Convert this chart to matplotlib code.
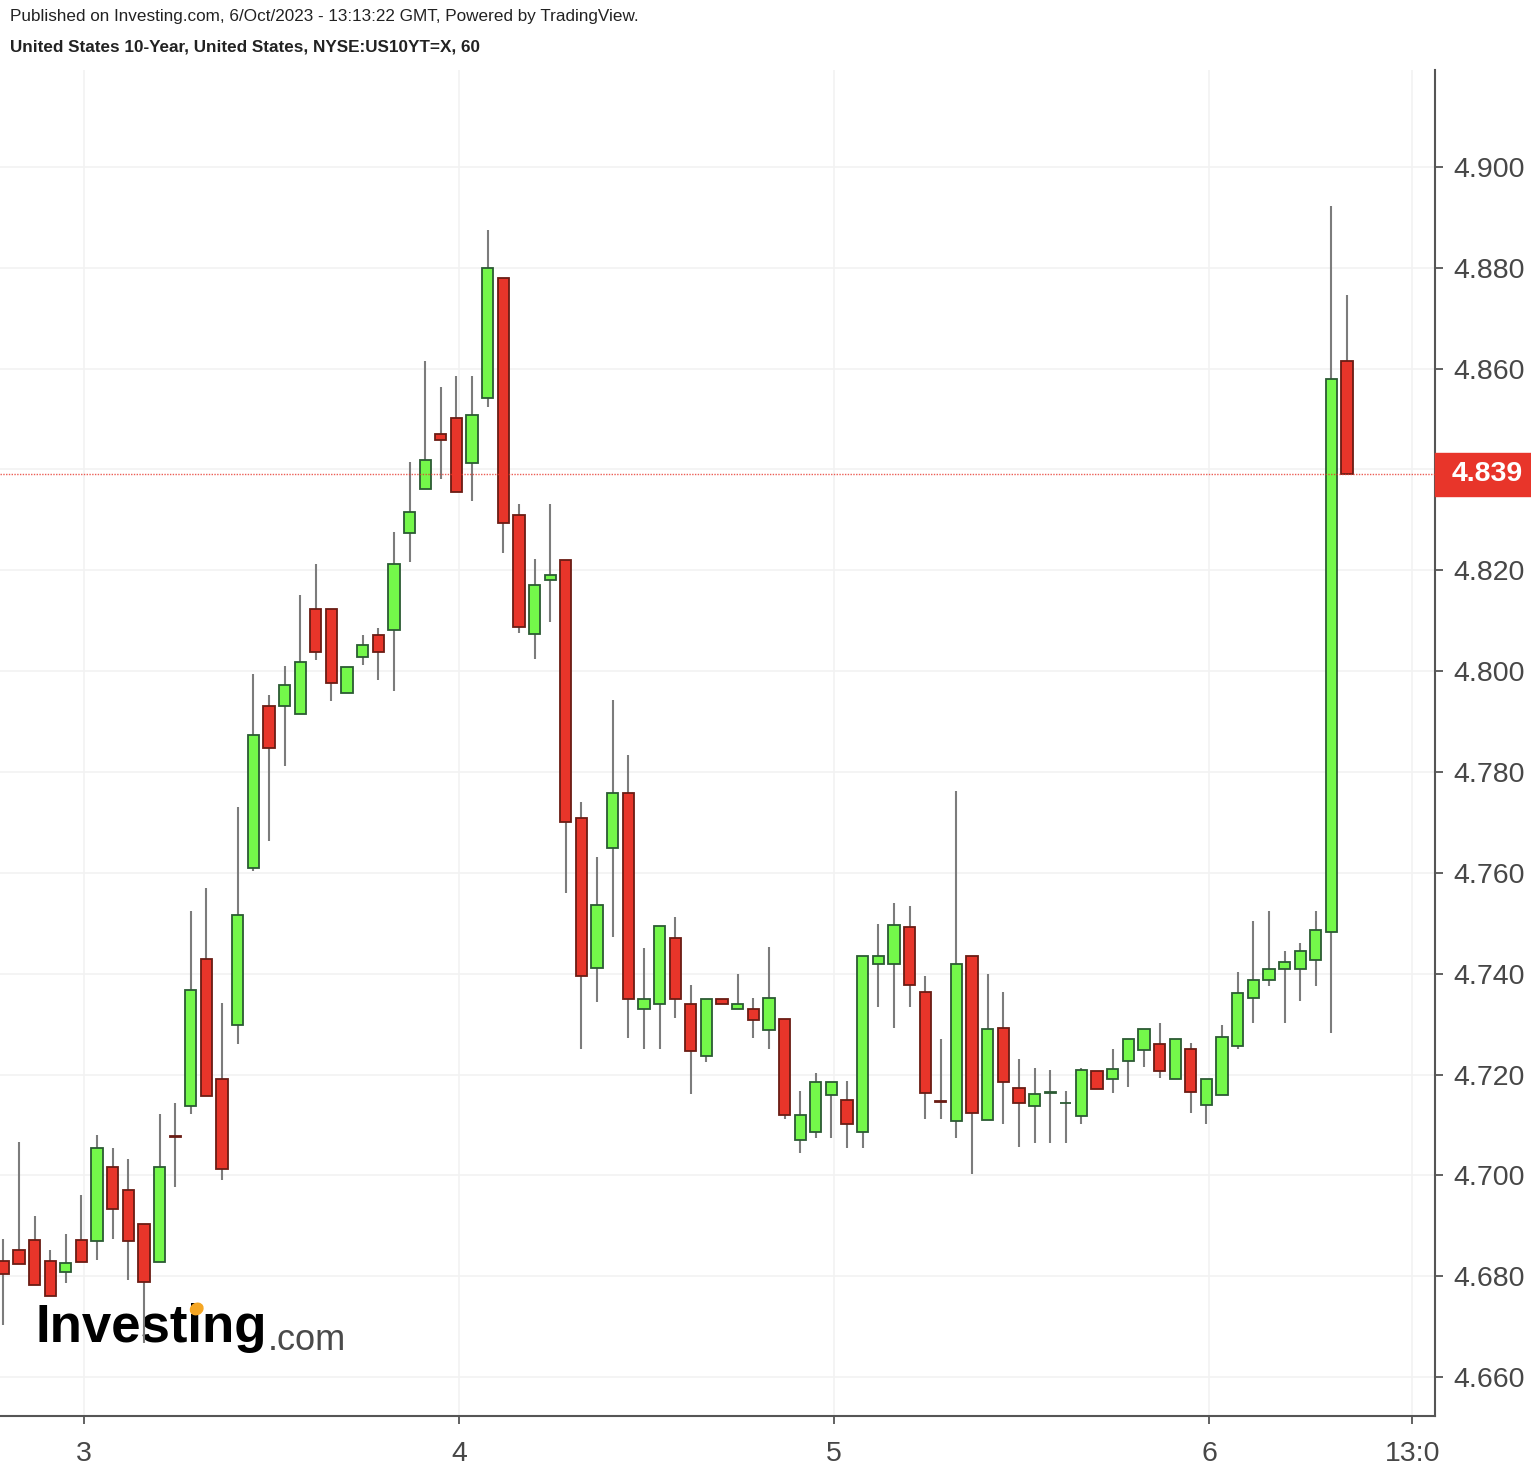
import matplotlib

matplotlib.use("Agg")
import matplotlib.pyplot as plt
import matplotlib.transforms as mtransforms
from matplotlib.patches import Ellipse, Rectangle
import numpy as np

HEADER = "Published on Investing.com, 6/Oct/2023 - 13:13:22 GMT, Powered by TradingView."
TITLE = "United States 10-Year, United States, NYSE:US10YT=X, 60"

# hourly bars, bar 0 = first full hour of Oct 3
BAR = np.arange(-6, 81)
OPEN = [4.6830, 4.6852, 4.6872, 4.6830, 4.6808, 4.6872, 4.6870, 4.7016, 4.6971, 4.6903,
        4.6828, 4.7079, 4.7137, 4.7429, 4.7191, 4.7298, 4.7609, 4.7931, 4.7931, 4.7915,
        4.8124, 4.8124, 4.7956, 4.8029, 4.8072, 4.8082, 4.8274, 4.8361, 4.8470, 4.8501,
        4.8412, 4.8541, 4.8780, 4.8310, 4.8073, 4.8180, 4.8221, 4.7708, 4.7412, 4.7650,
        4.7759, 4.7330, 4.7340, 4.7471, 4.7340, 4.7236, 4.7350, 4.7330, 4.7330, 4.7289,
        4.7311, 4.7070, 4.7087, 4.7160, 4.7150, 4.7087, 4.7419, 4.7419, 4.7493, 4.7364,
        4.7148, 4.7107, 4.7436, 4.7109, 4.7292, 4.7173, 4.7138, 4.7164, 4.7143, 4.7118,
        4.7207, 4.7191, 4.7227, 4.7249, 4.7260, 4.7191, 4.7250, 4.7139, 4.7160, 4.7257,
        4.7352, 4.7388, 4.7409, 4.7409, 4.7428, 4.7482, 4.8614]
HIGH = [4.6874, 4.7066, 4.6919, 4.6852, 4.6884, 4.6961, 4.7080, 4.7054, 4.7032, 4.6903,
        4.7122, 4.7143, 4.7524, 4.7570, 4.7341, 4.7731, 4.7994, 4.7952, 4.8011, 4.8150,
        4.8213, 4.8124, 4.8009, 4.8072, 4.8085, 4.8275, 4.8414, 4.8615, 4.8564, 4.8585,
        4.8585, 4.8874, 4.8780, 4.8332, 4.8223, 4.8332, 4.8221, 4.7740, 4.7631, 4.7942,
        4.7833, 4.7451, 4.7495, 4.7512, 4.7378, 4.7350, 4.7350, 4.7399, 4.7352, 4.7452,
        4.7311, 4.7167, 4.7203, 4.7186, 4.7188, 4.7435, 4.7498, 4.7540, 4.7535, 4.7395,
        4.7271, 4.7763, 4.7436, 4.7400, 4.7364, 4.7230, 4.7214, 4.7209, 4.7168, 4.7214,
        4.7207, 4.7251, 4.7270, 4.7290, 4.7303, 4.7270, 4.7262, 4.7192, 4.7299, 4.7404,
        4.7504, 4.7524, 4.7445, 4.7460, 4.7524, 4.8922, 4.8745]
LOW = [4.6703, 4.6824, 4.6782, 4.6761, 4.6786, 4.6828, 4.6832, 4.6874, 4.6792, 4.6667,
       4.6828, 4.6977, 4.7121, 4.7157, 4.6991, 4.7260, 4.7603, 4.7664, 4.7811, 4.7915,
       4.8022, 4.7940, 4.7956, 4.8012, 4.7982, 4.7961, 4.8216, 4.8361, 4.8381, 4.8355,
       4.8338, 4.8524, 4.8235, 4.8076, 4.8024, 4.8097, 4.7560, 4.7251, 4.7343, 4.7472,
       4.7272, 4.7251, 4.7251, 4.7313, 4.7162, 4.7224, 4.7340, 4.7330, 4.7272, 4.7251,
       4.7112, 4.7044, 4.7075, 4.7075, 4.7054, 4.7054, 4.7334, 4.7293, 4.7334, 4.7111,
       4.7111, 4.7075, 4.7003, 4.7109, 4.7102, 4.7056, 4.7065, 4.7065, 4.7065, 4.7102,
       4.7171, 4.7164, 4.7175, 4.7215, 4.7194, 4.7191, 4.7123, 4.7102, 4.7160, 4.7251,
       4.7303, 4.7376, 4.7303, 4.7346, 4.7376, 4.7282, 4.8391]
CLOSE = [4.6804, 4.6824, 4.6782, 4.6761, 4.6826, 4.6828, 4.7054, 4.6933, 4.6870, 4.6788,
         4.7016, 4.7077, 4.7367, 4.7157, 4.7013, 4.7517, 4.7874, 4.7848, 4.7973, 4.8019,
         4.8038, 4.7976, 4.8009, 4.8051, 4.8038, 4.8213, 4.8315, 4.8419, 4.8458, 4.8355,
         4.8507, 4.8800, 4.8294, 4.8088, 4.8170, 4.8191, 4.7701, 4.7396, 4.7537, 4.7759,
         4.7350, 4.7350, 4.7495, 4.7350, 4.7247, 4.7350, 4.7340, 4.7340, 4.7308, 4.7351,
         4.7119, 4.7120, 4.7186, 4.7186, 4.7102, 4.7435, 4.7435, 4.7497, 4.7377, 4.7164,
         4.7146, 4.7420, 4.7123, 4.7291, 4.7186, 4.7144, 4.7161, 4.7165, 4.7144, 4.7209,
         4.7171, 4.7212, 4.7270, 4.7290, 4.7207, 4.7270, 4.7166, 4.7192, 4.7275, 4.7361,
         4.7388, 4.7409, 4.7423, 4.7445, 4.7487, 4.8579, 4.8391]
LAST = 4.839

DAY_LABELS = ["3", "4", "5", "6", "13:0"]
DAY_HOURS = [0, 24, 48, 72, 85]
BAR_OFFSET = 0.83          # bar centres sit this far past the hour mark
Y_TICKS = np.round(np.arange(4.66, 4.901, 0.02), 3)

UP, UP_EDGE = "#74f84a", "#2b5a33"
DOWN, DOWN_EDGE = "#e8352a", "#6a1c14"
WICK = "#7c7c7c"
TXT = "#474747"
GRID = "#f2f2f2"

W, H, DPI = 1531, 1472, 100


def candles(ax):
    o, h, l, c = (np.asarray(a) for a in (OPEN, HIGH, LOW, CLOSE))
    up = c >= o
    ax.vlines(BAR, l, h, color=WICK, lw=1.5, zorder=2)
    bottom = np.minimum(o, c)
    height = np.abs(c - o)
    ax.bar(BAR[up], height[up], bottom=bottom[up], width=0.72,
           color=UP, edgecolor=UP_EDGE, lw=1.3, zorder=3)
    ax.bar(BAR[~up], height[~up], bottom=bottom[~up], width=0.72,
           color=DOWN, edgecolor=DOWN_EDGE, lw=1.3, zorder=3)


def logo(fig, ax):
    t = ax.text(0.0244, 0.055, "Investing", transform=ax.transAxes, fontsize=38,
                fontweight="bold", color="black", zorder=1)
    r = fig.canvas.get_renderer()
    bb = t.get_window_extent(r)
    ax.text(bb.x1 + 1, bb.y0 + 3, ".com", transform=None, fontsize=26,
            color="#4a4a4a", zorder=1)
    pre = ax.text(0, 0, "Invest", fontsize=38, fontweight="bold", transform=None)
    ii = ax.text(0, 0, "i", fontsize=38, fontweight="bold", transform=None)
    dx = pre.get_window_extent(r).width + ii.get_window_extent(r).width / 2
    pre.remove()
    ii.remove()
    ax.add_patch(Ellipse((bb.x0 + dx + 2, bb.y1 - 6), 13, 11, angle=30,
                         color="#f5a623", transform=None, zorder=1))


def main():
    plt.rcParams["font.family"] = ["Liberation Sans", "DejaVu Sans"]
    fig = plt.figure(figsize=(W / DPI, H / DPI), dpi=DPI)
    ax = fig.add_axes([0, 56 / H, 1435 / W, 1346 / H])

    candles(ax)
    ax.axhline(LAST, color=DOWN, lw=1.0, ls=(0, (1, 1)), alpha=0.8, zorder=4)

    ax.set_xlim(-6.21, 85.63)
    ax.set_ylim(4.6523, 4.9192)
    ax.set_xticks(np.asarray(DAY_HOURS) - BAR_OFFSET, DAY_LABELS)
    ax.set_yticks(Y_TICKS, [f"{v:.3f}" for v in Y_TICKS])
    ax.yaxis.tick_right()
    ax.tick_params(axis="both", labelsize=20.5, colors=TXT, length=6, width=1.2)
    ax.tick_params(axis="y", pad=7)
    ax.tick_params(axis="x", pad=12)
    ax.grid(True, color=GRID, lw=1.2, zorder=0)
    ax.set_axisbelow(True)
    for side in ("top", "left"):
        ax.spines[side].set_visible(False)
    for side in ("right", "bottom"):
        ax.spines[side].set_color("#555555")
        ax.spines[side].set_linewidth(1.5)

    # last-price tag on the price scale
    tr = mtransforms.blended_transform_factory(ax.transAxes, ax.transData)
    half = 21.5 / 1346 * (4.9192 - 4.6523)
    ax.add_patch(Rectangle((1.0, LAST - half), (W - 1435) / 1435, 2 * half,
                           transform=tr, color=DOWN, clip_on=False, zorder=5))
    ax.text(1.0118, LAST, f"{LAST:.3f}", transform=tr, va="center", ha="left",
            fontsize=20.5, fontweight="bold", color="white", zorder=6)

    logo(fig, ax)

    fig.text(10 / W, 1 - 17 / H, HEADER, fontsize=12.3, color="#222222", va="center")
    fig.text(10 / W, 1 - 47 / H, TITLE, fontsize=12.3, fontweight="bold",
             color="#222222", va="center")

    fig.savefig("out.png", dpi=DPI)


if __name__ == "__main__":
    main()
